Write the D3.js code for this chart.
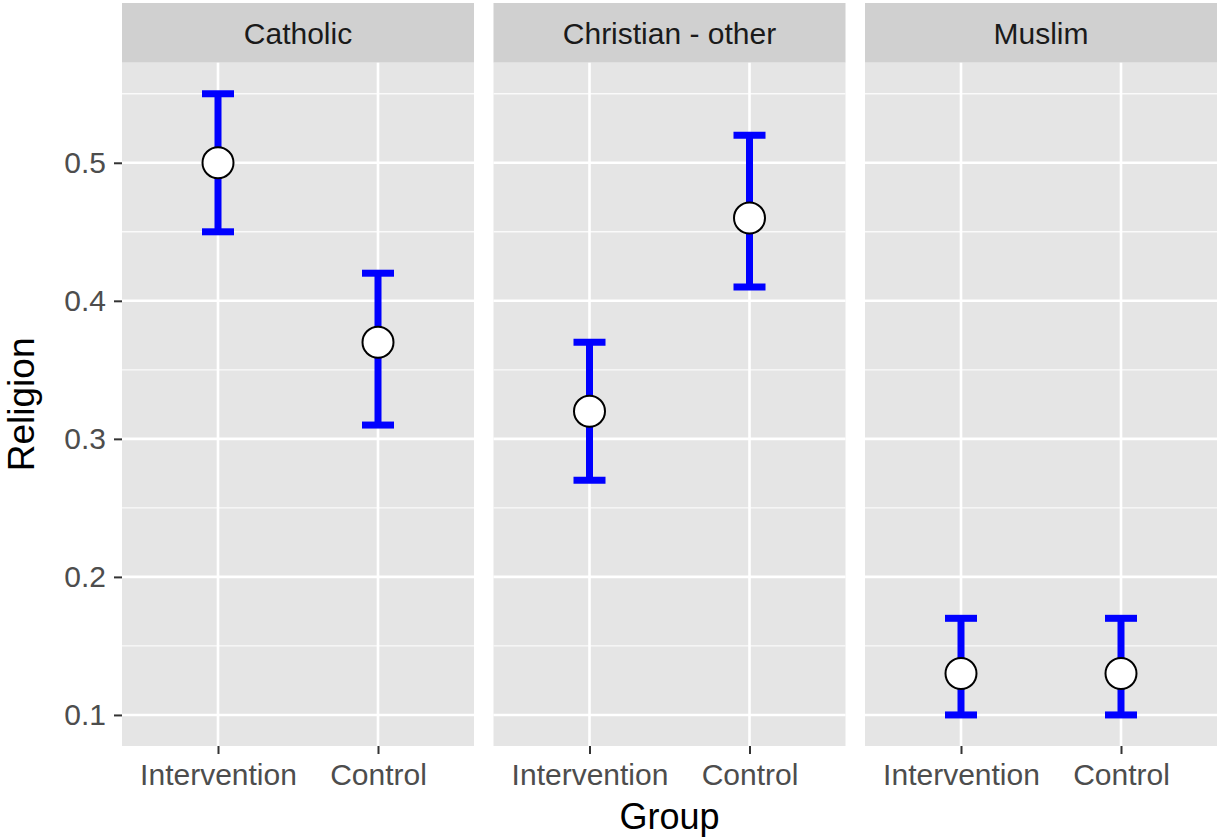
<!DOCTYPE html>
<html>
<head>
<meta charset="utf-8">
<script src="https://d3js.org/d3.v7.min.js"></script>
<style>
  body { margin: 0; background: #fff; }
  text { font-family: "Liberation Sans", Arial, Helvetica, sans-serif; }
</style>
</head>
<body>
<div id="chart"></div>
<script>
// values
const religions = ["Catholic", "Christian - other", "Muslim"];
const groups = ["Intervention", "Control"];
const means = [[0.50, 0.37], [0.32, 0.46], [0.13, 0.13]];
const lower = [[0.45, 0.31], [0.27, 0.41], [0.10, 0.10]];
const upper = [[0.55, 0.42], [0.37, 0.52], [0.17, 0.17]];
const yTicks = [0.1, 0.2, 0.3, 0.4, 0.5];
const yMinor = [0.15, 0.25, 0.35, 0.45, 0.55];

const W = 1217, H = 839;
const panelLeft = 122, panelW = 352, panelGap = 19.5;
const stripTop = 3, panelTop = 62.7, panelBottom = 746;

const rows = [];
religions.forEach((r, i) => {
    groups.forEach((g, j) => {
        rows.push({ religion: r, group: g, mean: means[i][j], lo: lower[i][j], hi: upper[i][j] });
    });
});

const svg = d3.select("#chart").append("svg")
    .attr("width", W)
    .attr("height", H);

// ggplot-style 5% expansion of the data range
const yMin = d3.min(rows, d => d.lo), yMax = d3.max(rows, d => d.hi);
const pad = (yMax - yMin) * 0.05;
const yScale = d3.scaleLinear()
    .domain([yMin - pad, yMax + pad])
    .range([panelBottom, panelTop]);

const xScale = d3.scalePoint()
    .domain(groups)
    .range([0, panelW])
    .padding(0.6);

const capHalf = xScale.step() * 0.1;

religions.forEach((rel, i) => {
    const px = panelLeft + i * (panelW + panelGap);
    const g = svg.append("g").attr("transform", `translate(${px},0)`);

    // strip
    g.append("rect")
        .attr("x", 0).attr("y", stripTop)
        .attr("width", panelW).attr("height", panelTop - stripTop)
        .attr("fill", "#d0d0d0");
    g.append("text")
        .attr("x", panelW / 2)
        .attr("y", (stripTop + panelTop) / 2)
        .attr("dy", "0.36em")
        .attr("text-anchor", "middle")
        .attr("fill", "#1a1a1a")
        .style("font-size", "30px")
        .text(rel);

    // panel
    g.append("rect")
        .attr("x", 0).attr("y", panelTop)
        .attr("width", panelW).attr("height", panelBottom - panelTop)
        .attr("fill", "#e5e5e5");

    g.selectAll(".minor")
        .data(yMinor.filter(v => yScale(v) > panelTop && yScale(v) < panelBottom))
        .enter().append("line")
        .attr("x1", 0).attr("x2", panelW)
        .attr("y1", d => yScale(d)).attr("y2", d => yScale(d))
        .attr("stroke", "#fafafa").attr("stroke-width", 1.4);

    g.selectAll(".major")
        .data(yTicks)
        .enter().append("line")
        .attr("x1", 0).attr("x2", panelW)
        .attr("y1", d => yScale(d)).attr("y2", d => yScale(d))
        .attr("stroke", "#fff").attr("stroke-width", 2.6);

    g.selectAll(".vgrid")
        .data(groups)
        .enter().append("line")
        .attr("x1", d => xScale(d)).attr("x2", d => xScale(d))
        .attr("y1", panelTop).attr("y2", panelBottom)
        .attr("stroke", "#fff").attr("stroke-width", 2.6);

    // x axis
    const xAxis = g.append("g")
        .attr("transform", `translate(0,${panelBottom})`)
        .call(d3.axisBottom(xScale).tickSize(8).tickPadding(10));
    xAxis.select(".domain").remove();
    xAxis.selectAll("line").attr("stroke", "#333").attr("stroke-width", 2);
    xAxis.selectAll("text")
        .attr("fill", "#4d4d4d")
        .style("font-size", "30px")
        .style("font-family", "'Liberation Sans', Arial, sans-serif");

    // error bars
    const pd = rows.filter(d => d.religion === rel);
    const eb = g.selectAll(".eb").data(pd).enter().append("g");
    eb.append("line")
        .attr("x1", d => xScale(d.group)).attr("x2", d => xScale(d.group))
        .attr("y1", d => yScale(d.lo)).attr("y2", d => yScale(d.hi))
        .attr("stroke", "#0000ff").attr("stroke-width", 7);
    eb.append("line")
        .attr("x1", d => xScale(d.group) - capHalf).attr("x2", d => xScale(d.group) + capHalf)
        .attr("y1", d => yScale(d.lo)).attr("y2", d => yScale(d.lo))
        .attr("stroke", "#0000ff").attr("stroke-width", 7);
    eb.append("line")
        .attr("x1", d => xScale(d.group) - capHalf).attr("x2", d => xScale(d.group) + capHalf)
        .attr("y1", d => yScale(d.hi)).attr("y2", d => yScale(d.hi))
        .attr("stroke", "#0000ff").attr("stroke-width", 7);
    eb.append("circle")
        .attr("cx", d => xScale(d.group))
        .attr("cy", d => yScale(d.mean))
        .attr("r", 15.5)
        .attr("fill", "#fff")
        .attr("stroke", "#000")
        .attr("stroke-width", 2);
});

// y axis on the first panel
const yAxis = svg.append("g")
    .attr("transform", `translate(${panelLeft},0)`)
    .call(d3.axisLeft(yScale).tickValues(yTicks).tickFormat(d3.format(".1f")).tickSize(8).tickPadding(8));
yAxis.select(".domain").remove();
yAxis.selectAll("line").attr("stroke", "#333").attr("stroke-width", 2);
yAxis.selectAll("text")
    .attr("fill", "#4d4d4d")
    .style("font-size", "30px")
    .style("font-family", "'Liberation Sans', Arial, sans-serif");

// axis titles
svg.append("text")
    .attr("x", (panelLeft + W) / 2)
    .attr("y", 829)
    .attr("text-anchor", "middle")
    .attr("fill", "#000")
    .style("font-size", "36px")
    .text("Group");

svg.append("text")
    .attr("transform", `translate(34,${(panelTop + panelBottom) / 2}) rotate(-90)`)
    .attr("text-anchor", "middle")
    .attr("fill", "#000")
    .style("font-size", "37px")
    .text("Religion");
</script>
</body>
</html>
